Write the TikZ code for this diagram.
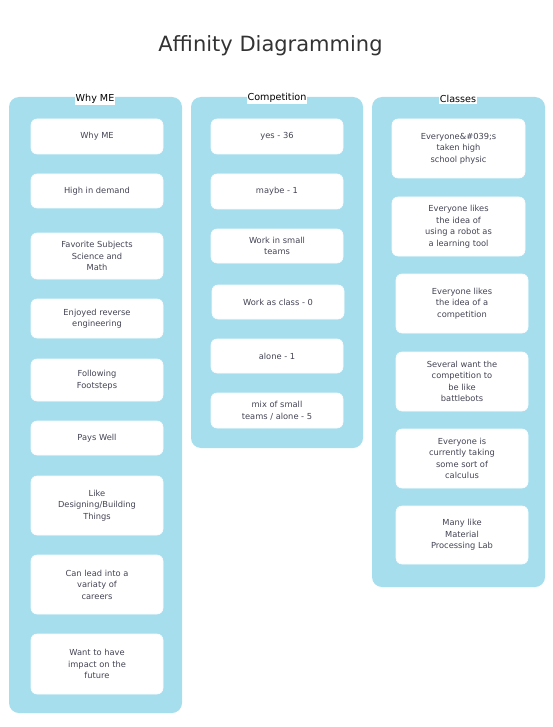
\documentclass[tikz,border=0pt]{standalone}
\usepackage{fontspec}
\setmainfont{DejaVu Sans}
\definecolor{colblue}{HTML}{A6DEEE}
\definecolor{cardtxt}{HTML}{444455}
\definecolor{titletxt}{HTML}{333333}
\begin{document}
\begin{tikzpicture}[x=1pt,y=-1pt,
  colbox/.style={fill=colblue, draw=none, rounded corners=10pt, inner sep=0pt},
  card/.style={fill=white, draw=white!92!colblue, line width=0.6pt, rounded corners=6pt, inner sep=0pt, align=center, text=cardtxt, font=\fontsize{8.3}{11.5}\selectfont},
  header/.style={fill=white, inner sep=1pt, text=black, font=\fontsize{9.6}{11}\selectfont},
  title/.style={text=titletxt, font=\fontsize{21}{24}\selectfont, inner sep=0pt}]
\useasboundingbox (0,0) rectangle (553,727);
\node[title, anchor=base] (t) at (270.5,52) {Affinity Diagramming};
% columns
\node[colbox, minimum width=173pt, minimum height=616pt] (c1) at (95.5,405) {};
\node[colbox, minimum width=172pt, minimum height=351pt] (c2) at (277,272.5) {};
\node[colbox, minimum width=173pt, minimum height=490pt] (c3) at (458.5,342) {};
\node[header] (h1) at (95,99) {Why ME};
\node[header] (h2) at (277,98) {Competition};
\node[header] (h3) at (458,99) {Classes};
% column 1
\node[card, minimum width=132pt, minimum height=35pt] (a1) at (97,136.5) {Why ME};
\node[card, minimum width=132pt, minimum height=34pt] (a2) at (97,191) {High in demand};
\node[card, minimum width=132pt, minimum height=46pt] (a3) at (97,256) {Favorite Subjects\\Science and\\Math};
\node[card, minimum width=132pt, minimum height=39pt] (a4) at (97,318.5) {Enjoyed reverse\\engineering};
\node[card, minimum width=132pt, minimum height=42pt] (a5) at (97,380) {Following\\Footsteps};
\node[card, minimum width=132pt, minimum height=34pt] (a6) at (97,438) {Pays Well};
\node[card, minimum width=132pt, minimum height=59pt] (a7) at (97,505.5) {Like\\Designing/Building\\Things};
\node[card, minimum width=132pt, minimum height=59pt] (a8) at (97,584.5) {Can lead into a\\variaty of\\careers};
\node[card, minimum width=132pt, minimum height=60pt] (a9) at (97,664) {Want to have\\impact on the\\future};
% column 2
\node[card, minimum width=132pt, minimum height=35pt] (b1) at (277,136.5) {yes - 36};
\node[card, minimum width=132pt, minimum height=35pt] (b2) at (277,191.5) {maybe - 1};
\node[card, minimum width=132pt, minimum height=34pt] (b3) at (277,246) {Work in small\\teams};
\node[card, minimum width=132pt, minimum height=34pt] (b4) at (278,302) {Work as class - 0};
\node[card, minimum width=132pt, minimum height=34pt] (b5) at (277,356) {alone - 1};
\node[card, minimum width=132pt, minimum height=35pt] (b6) at (277,410.5) {mix of small\\teams / alone - 5};
% column 3
\node[card, minimum width=133pt, minimum height=59pt] (d1) at (458.5,148.5) {Everyone\&\#039;s\\taken high\\school physic};
\node[card, minimum width=133pt, minimum height=59pt] (d2) at (458.5,226.5) {Everyone likes\\the idea of\\using a robot as\\a learning tool};
\node[card, minimum width=132pt, minimum height=59pt] (d3) at (462,303.5) {Everyone likes\\the idea of a\\competition};
\node[card, minimum width=132pt, minimum height=59pt] (d4) at (462,381.5) {Several want the\\competition to\\be like\\battlebots};
\node[card, minimum width=132pt, minimum height=59pt] (d5) at (462,458.5) {Everyone is\\currently taking\\some sort of\\calculus};
\node[card, minimum width=132pt, minimum height=58pt] (d6) at (462,535) {Many like\\Material\\Processing Lab};
\end{tikzpicture}
\end{document}
